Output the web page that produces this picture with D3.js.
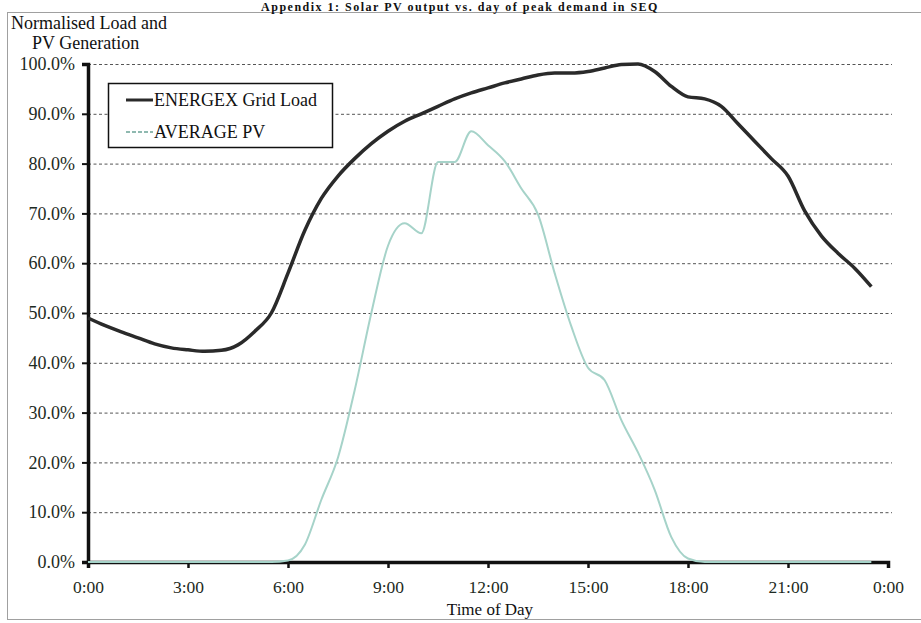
<!DOCTYPE html>
<html><head><meta charset="utf-8">
<script src="https://cdn.jsdelivr.net/npm/d3@7"></script>
<style>body{margin:0;background:#fff} svg{display:block}</style>
</head><body><svg id="c" width="921" height="623"></svg>
<script>
// ---- data (half-hourly) ----
const times = ["0:00","0:30","1:00","1:30","2:00","2:30","3:00","3:30","4:00","4:30","5:00","5:30",
  "6:00","6:30","7:00","7:30","8:00","8:30","9:00","9:30","10:00","10:30","11:00","11:30",
  "12:00","12:30","13:00","13:30","14:00","14:30","15:00","15:30","16:00","16:30","17:00","17:30",
  "18:00","18:30","19:00","19:30","20:00","20:30","21:00","21:30","22:00","22:30","23:00","23:30"];
const loadPct = [49.0,47.5,46.2,45.0,43.8,43.0,42.6,42.3,42.5,43.6,46.3,50.0,
  58.0,66.5,73.0,77.5,81.0,84.0,86.5,88.5,90.0,91.5,93.0,94.2,
  95.2,96.2,97.0,97.8,98.2,98.2,98.5,99.2,99.9,100.0,98.5,95.5,
  93.4,93.0,91.5,88.0,84.5,81.0,77.5,70.5,65.5,62.0,59.0,55.3];
const pvPct = [0,0,0,0,0,0,0,0,0,0,0,0,
  0.3,3.4,12.5,21.0,34.5,50.0,63.5,68.0,66.0,80.3,80.3,86.5,
  83.7,80.5,75.0,69.8,58.0,47.3,39.0,36.5,28.5,22.0,14.5,5.0,
  0.7,0,0,0,0,0,0,0,0,0,0,0];
const seriesNames = ["ENERGEX Grid Load","AVERAGE PV"];
const xTickHours = [0,3,6,9,12,15,18,21,24];
const xTickLabels = ["0:00","3:00","6:00","9:00","12:00","15:00","18:00","21:00","0:00"];
const yTickValues = [0,10,20,30,40,50,60,70,80,90,100];
const titleText = "Appendix 1: Solar PV output vs. day of peak demand in SEQ";
const yTitleLines = ["Normalised Load and","PV Generation"];
const xTitle = "Time of Day";

// ---- layout ----
const svg = d3.select("#c");
const FONT = "'Liberation Serif', 'Times New Roman', serif";
const toH = t => { const [h,m] = t.split(":").map(Number); return h + m/60; };
const x = d3.scaleLinear().domain([0,24]).range([88,888]);
const y = d3.scaleLinear().domain([0,100]).range([562,64]);
const loadColor = "#2a2a2a", pvColor = "#a6d3c9";

// outer frame
svg.append("rect").attr("x",7.5).attr("y",12.5).attr("width",915).attr("height",607)
  .attr("fill","none").attr("stroke","#a0a0a0").attr("stroke-width",1);

// title (squeezed into the top strip above the frame)
svg.append("text").attr("x",460).attr("y",11).attr("text-anchor","middle")
  .attr("font-family",FONT).attr("font-weight","bold").attr("font-size",12).attr("fill","#111")
  .attr("letter-spacing",1.5)
  .text(titleText);

// gridlines
svg.append("g").selectAll("line").data(yTickValues.filter(v=>v>0)).join("line")
  .attr("x1",x(0)).attr("x2",892).attr("y1",d=>y(d)+0.5).attr("y2",d=>y(d)+0.5)
  .attr("stroke","#555").attr("stroke-width",1).attr("stroke-dasharray","3,2.5");

// y axis
const gy = svg.append("g").attr("transform",`translate(${x(0)},0)`)
  .call(d3.axisLeft(y).tickValues(yTickValues).tickSize(6).tickPadding(7)
    .tickFormat(d=>d.toFixed(1)+"%"));
gy.select(".domain").attr("stroke","#111").attr("stroke-width",3.5);
gy.selectAll(".tick line").attr("stroke","#111").attr("stroke-width",2);
gy.selectAll(".tick text").attr("font-family",FONT).attr("font-size",18).attr("fill","#1d2a22");

// x axis
const gx = svg.append("g").attr("transform",`translate(0,${y(0)})`)
  .call(d3.axisBottom(x).tickValues(xTickHours).tickSize(6).tickPadding(13)
    .tickFormat((d,i)=>xTickLabels[i]));
gx.select(".domain").attr("stroke","#111").attr("stroke-width",3.5);
gx.selectAll(".tick line").attr("stroke","#111").attr("stroke-width",2.5);
gx.selectAll(".tick text").attr("font-family",FONT).attr("font-size",17.5).attr("fill","#1d2a22");

// axis titles
svg.append("text").attr("font-family",FONT).attr("font-size",18).attr("fill","#111")
  .selectAll("tspan").data(yTitleLines).join("tspan")
  .attr("x",(d,i)=>i===0?11:32).attr("y",(d,i)=>i===0?29:49).text(d=>d);
svg.append("text").attr("x",x(12)+2).attr("y",615).attr("text-anchor","middle")
  .attr("font-family",FONT).attr("font-size",17).attr("fill","#111").text(xTitle);

// series
const pts = arr => times.map((t,i)=>[toH(t),arr[i]]);
const line = d3.line().x(d=>x(d[0])).y(d=>y(d[1])).curve(d3.curveMonotoneX);
svg.append("path").datum(pts(pvPct)).attr("d",line).attr("fill","none")
  .attr("stroke",pvColor).attr("stroke-width",2);
svg.append("path").datum(pts(loadPct)).attr("d",line).attr("fill","none")
  .attr("stroke",loadColor).attr("stroke-width",3.5).attr("stroke-linejoin","round");

// legend
const lg = svg.append("g");
lg.append("rect").attr("x",108.5).attr("y",83.5).attr("width",224).attr("height",64)
  .attr("fill","#fff").attr("stroke","#111").attr("stroke-width",1.5);
const lItems = [{name:seriesNames[0],color:loadColor,w:3,dash:null},
                {name:seriesNames[1],color:"#8fb9b0",w:2,dash:"4,2"}];
lItems.forEach((d,i)=>{
  const yy = 100 + i*32;
  lg.append("line").attr("x1",126).attr("x2",153).attr("y1",yy).attr("y2",yy)
    .attr("stroke",d.color).attr("stroke-width",d.w).attr("stroke-dasharray",d.dash);
  lg.append("text").attr("x",154).attr("y",yy+6).attr("font-family",FONT).attr("font-size",18)
    .attr("fill","#111").text(d.name);
});
</script></body></html>
